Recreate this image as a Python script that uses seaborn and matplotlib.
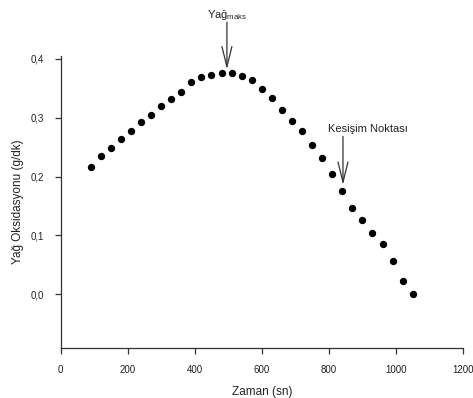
import matplotlib
matplotlib.use("Agg")
import matplotlib.pyplot as plt
import seaborn as sns
import pandas as pd
from matplotlib.ticker import FuncFormatter, FixedLocator

# Data
zaman = [90, 120, 150, 180, 210, 240, 270, 300, 330, 360, 390, 420, 450, 480,
         510, 540, 570, 600, 630, 660, 690, 720, 750, 780, 810, 840, 870, 900,
         930, 960, 990, 1020, 1050]
yag_oks = [0.217, 0.235, 0.249, 0.263, 0.277, 0.292, 0.305, 0.320, 0.332, 0.344,
           0.361, 0.369, 0.373, 0.376, 0.375, 0.370, 0.364, 0.349, 0.333, 0.313,
           0.294, 0.277, 0.254, 0.231, 0.204, 0.175, 0.147, 0.127, 0.105, 0.085,
           0.056, 0.023, 0.000]
x_ticks = [0, 200, 400, 600, 800, 1000, 1200]
y_ticks = [0.0, 0.1, 0.2, 0.3, 0.4]
x_label = "Zaman (sn)"
y_label = "Yağ Oksidasyonu (g/dk)"
maks_label = "Yağ$_{\\mathrm{maks}}$"
maks_x = 496
kesisim_label = "Kesişim Noktası"
kesisim_x = 842

sns.set_style("ticks")
plt.rcParams["font.family"] = ["Liberation Sans", "DejaVu Sans"]
plt.rcParams["mathtext.fontset"] = "custom"
plt.rcParams["mathtext.rm"] = "Liberation Sans"
plt.rcParams["mathtext.it"] = "Liberation Sans:italic"

df = pd.DataFrame({"zaman": zaman, "yag": yag_oks})

fig = plt.figure(figsize=(4.73, 3.98), dpi=100)
ax = fig.add_axes([0.128, 0.1256, 0.851, 0.7344])

sns.scatterplot(data=df, x="zaman", y="yag", ax=ax, color="black", s=28,
                linewidth=0, zorder=3)

ax.set_xlim(0, 1200)
ax.set_ylim(-0.091, 0.405)
ax.xaxis.set_major_locator(FixedLocator(x_ticks))
ax.yaxis.set_major_locator(FixedLocator(y_ticks))
ax.yaxis.set_major_formatter(FuncFormatter(lambda v, p: f"{v:.1f}".replace(".", ",")))
ax.xaxis.set_major_formatter(FuncFormatter(lambda v, p: f"{v:.0f}"))

for side in ["top", "right"]:
    ax.spines[side].set_visible(False)
for side in ["left", "bottom"]:
    ax.spines[side].set_color("#333333")
    ax.spines[side].set_linewidth(0.9)

ax.tick_params(axis="both", direction="out", length=4, width=0.9,
               color="#333333", labelsize=7, labelcolor="#222222", pad=8)
ax.set_xlabel(x_label, fontsize=8.5, color="#222222", labelpad=8)
ax.set_ylabel(y_label, fontsize=8.5, color="#222222", labelpad=5)

arrow_kw = dict(arrowstyle="->,head_length=1.45,head_width=0.36",
                mutation_scale=10, color="#333333", lw=0.9,
                shrinkA=0, shrinkB=0)

# Yağ maks annotation
ax.annotate("", xy=(maks_x, 0.382), xytext=(maks_x, 0.462),
            arrowprops=arrow_kw, annotation_clip=False)
ax.text(maks_x, 0.463, maks_label, ha="center", va="bottom", fontsize=8,
        color="#222222", clip_on=False)

# Kesişim noktası annotation
ax.annotate("", xy=(kesisim_x, 0.186), xytext=(kesisim_x, 0.268),
            arrowprops=arrow_kw, annotation_clip=False)
ax.text(797, 0.272, kesisim_label, ha="left", va="bottom", fontsize=8,
        color="#222222")

fig.savefig("out.png", dpi=100)
